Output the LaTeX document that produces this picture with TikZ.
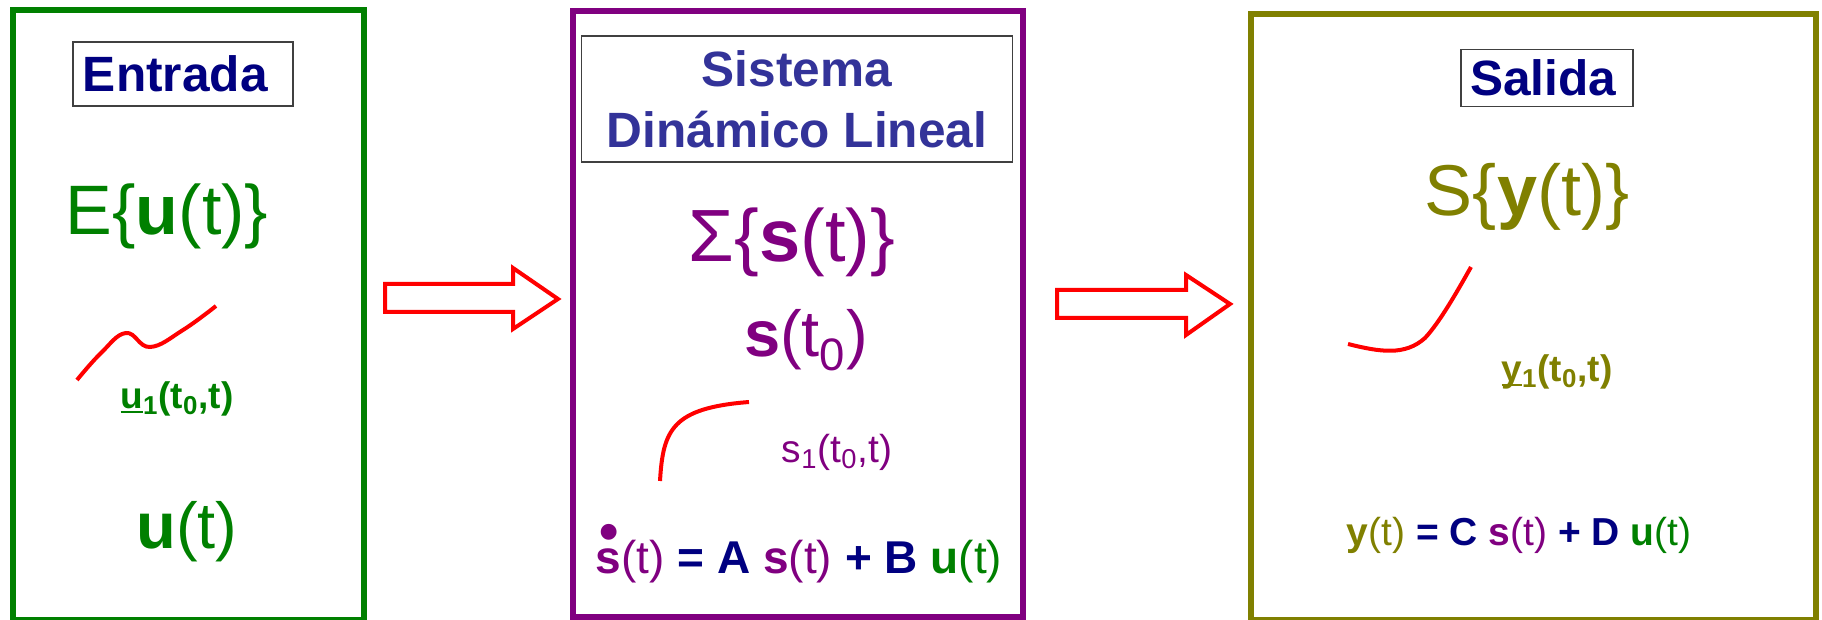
\documentclass[tikz,border=0pt]{standalone}
\usepackage{fontspec}
\setmainfont{Liberation Sans}
\definecolor{SysGreen}{RGB}{0,128,0}
\definecolor{SysPurple}{RGB}{128,0,128}
\definecolor{SysOlive}{RGB}{128,128,0}
\definecolor{SysNavy}{RGB}{0,0,128}
\definecolor{SysIndigo}{RGB}{51,51,153}
\definecolor{SysRed}{RGB}{255,0,0}
\usepackage{tikz}
\usetikzlibrary{positioning}

% dotted s and underlined symbol
\newcommand{\sdot}{\makebox[0pt][l]{\hspace{0.07em}\smash{\raisebox{0.5em}{\scalebox{1.2}{•}}}}s}
\newcommand{\sigline}[1]{\setbox0\hbox{#1}\rlap{\rule[-0.13em]{\wd0}{0.07em}}\box0}

\begin{document}
\begin{tikzpicture}[x=0.5pt, y=-0.5pt,
    panel/.style={draw=#1, line width=2.75pt, inner sep=0pt, outer sep=0pt},
    titlebox/.style={draw=black!75, line width=0.7pt, fill=white, inner ysep=0pt, align=left,
        font=\fontsize{24.8}{30.5}\selectfont\bfseries},
    big/.style={inner sep=0pt, font=\fontsize{#1}{40}\selectfont},
    mid/.style={inner sep=0pt, font=\fontsize{32.5}{36}\selectfont},
    small/.style={inner sep=0pt, font=\fontsize{18.5}{22}\selectfont},
    smallbold/.style={inner sep=0pt, font=\fontsize{18.5}{22}\selectfont\bfseries},
    eqn/.style={inner sep=0pt, font=\fontsize{#1}{24}\selectfont},
    signal/.style={draw=SysRed, line width=2pt},
    blockarrow/.style={draw=SysRed, line width=2pt, fill=white}
]
    \useasboundingbox (0,0) rectangle (1822,620);

    % three panels
    \node[panel=SysGreen,  minimum width=175.5pt, minimum height=305pt] (ent) at (188.5,315) {};
    \node[panel=SysPurple, minimum width=225pt,   minimum height=303pt] (sis) at (798,314) {};
    \node[panel=SysOlive,  minimum width=282.5pt, minimum height=303pt] (sal) at (1533.5,317) {};

    % titles
    \node[titlebox, text=SysNavy, inner xsep=5pt, text width=100pt, minimum height=32pt] (entT) at (183,74) {Entrada};
    \node[titlebox, text=SysIndigo, align=center, inner xsep=0pt, minimum width=215.5pt, minimum height=63pt] (sisT) at (797,99) {Sistema\\Dinámico Lineal};
    \node[titlebox, text=SysNavy, inner xsep=4.5pt, text width=77pt, minimum height=28.5pt] (salT) at (1547,78) {Salida};

    % Entrada
    \node[big=35, text=SysGreen] (eset) at (167,216) {E\{\textbf{u}(t)\}};
    \draw[signal] plot[smooth, tension=0.7] coordinates {(77,380) (101,353) (126,333) (150,347) (183,330) (216,306)};
    \node[smallbold, text=SysGreen] (ucur) at (177,399) {\sigline{u}\textsubscript{1}(t\textsubscript{0},t)};
    \node[mid, text=SysGreen] (usig) at (187,532) {\textbf{u}(t)};

    % Sistema
    \node[big=37, text=SysPurple] (sset) at (792,242) {Σ\{\textbf{s}(t)\}};
    \node[mid, text=SysPurple] (sini) at (806,340) {\textbf{s}(t\textsubscript{0})};
    \draw[signal] (660,481) .. controls (663,430) and (672,408) .. (749,402);
    \node[small, text=SysPurple, font=\fontsize{19.5}{22}\selectfont] (scur) at (837,452) {s\textsubscript{1}(t\textsubscript{0},t)};
    \node[eqn=23] (seq) at (799,562) {{\color{SysPurple}\textbf{\sdot}(t)} {\color{SysNavy}\textbf{= A}} {\color{SysPurple}\textbf{s}(t)} {\color{SysNavy}\textbf{+ B}} {\color{SysGreen}\textbf{u}(t)}};

    % Salida
    \node[big=36, text=SysOlive] (yset) at (1527,197) {S\{\textbf{y}(t)\}};
    \draw[signal] (1348,344) .. controls (1380,352) and (1405,356) .. (1425,338) .. controls (1440,322) and (1458,290) .. (1471,267);
    \node[smallbold, text=SysOlive] (ycur) at (1557,372) {\sigline{y}\textsubscript{1}(t\textsubscript{0},t)};
    \node[eqn=19.5] (yeq) at (1519,535) {{\color{SysOlive}\textbf{y}(t)} {\color{SysNavy}\textbf{= C}} {\color{SysPurple}\textbf{s}(t)} {\color{SysNavy}\textbf{+ D}} {\color{SysGreen}\textbf{u}(t)}};

    % block arrows between panels
    \draw[blockarrow] (385,284) -- (513,284) -- (513,268) -- (558,299) -- (513,329) -- (513,312) -- (385,312) -- cycle;
    \draw[blockarrow] (1057,290) -- (1186,290) -- (1186,275) -- (1230,304) -- (1186,335) -- (1186,318) -- (1057,318) -- cycle;
\end{tikzpicture}
\end{document}
